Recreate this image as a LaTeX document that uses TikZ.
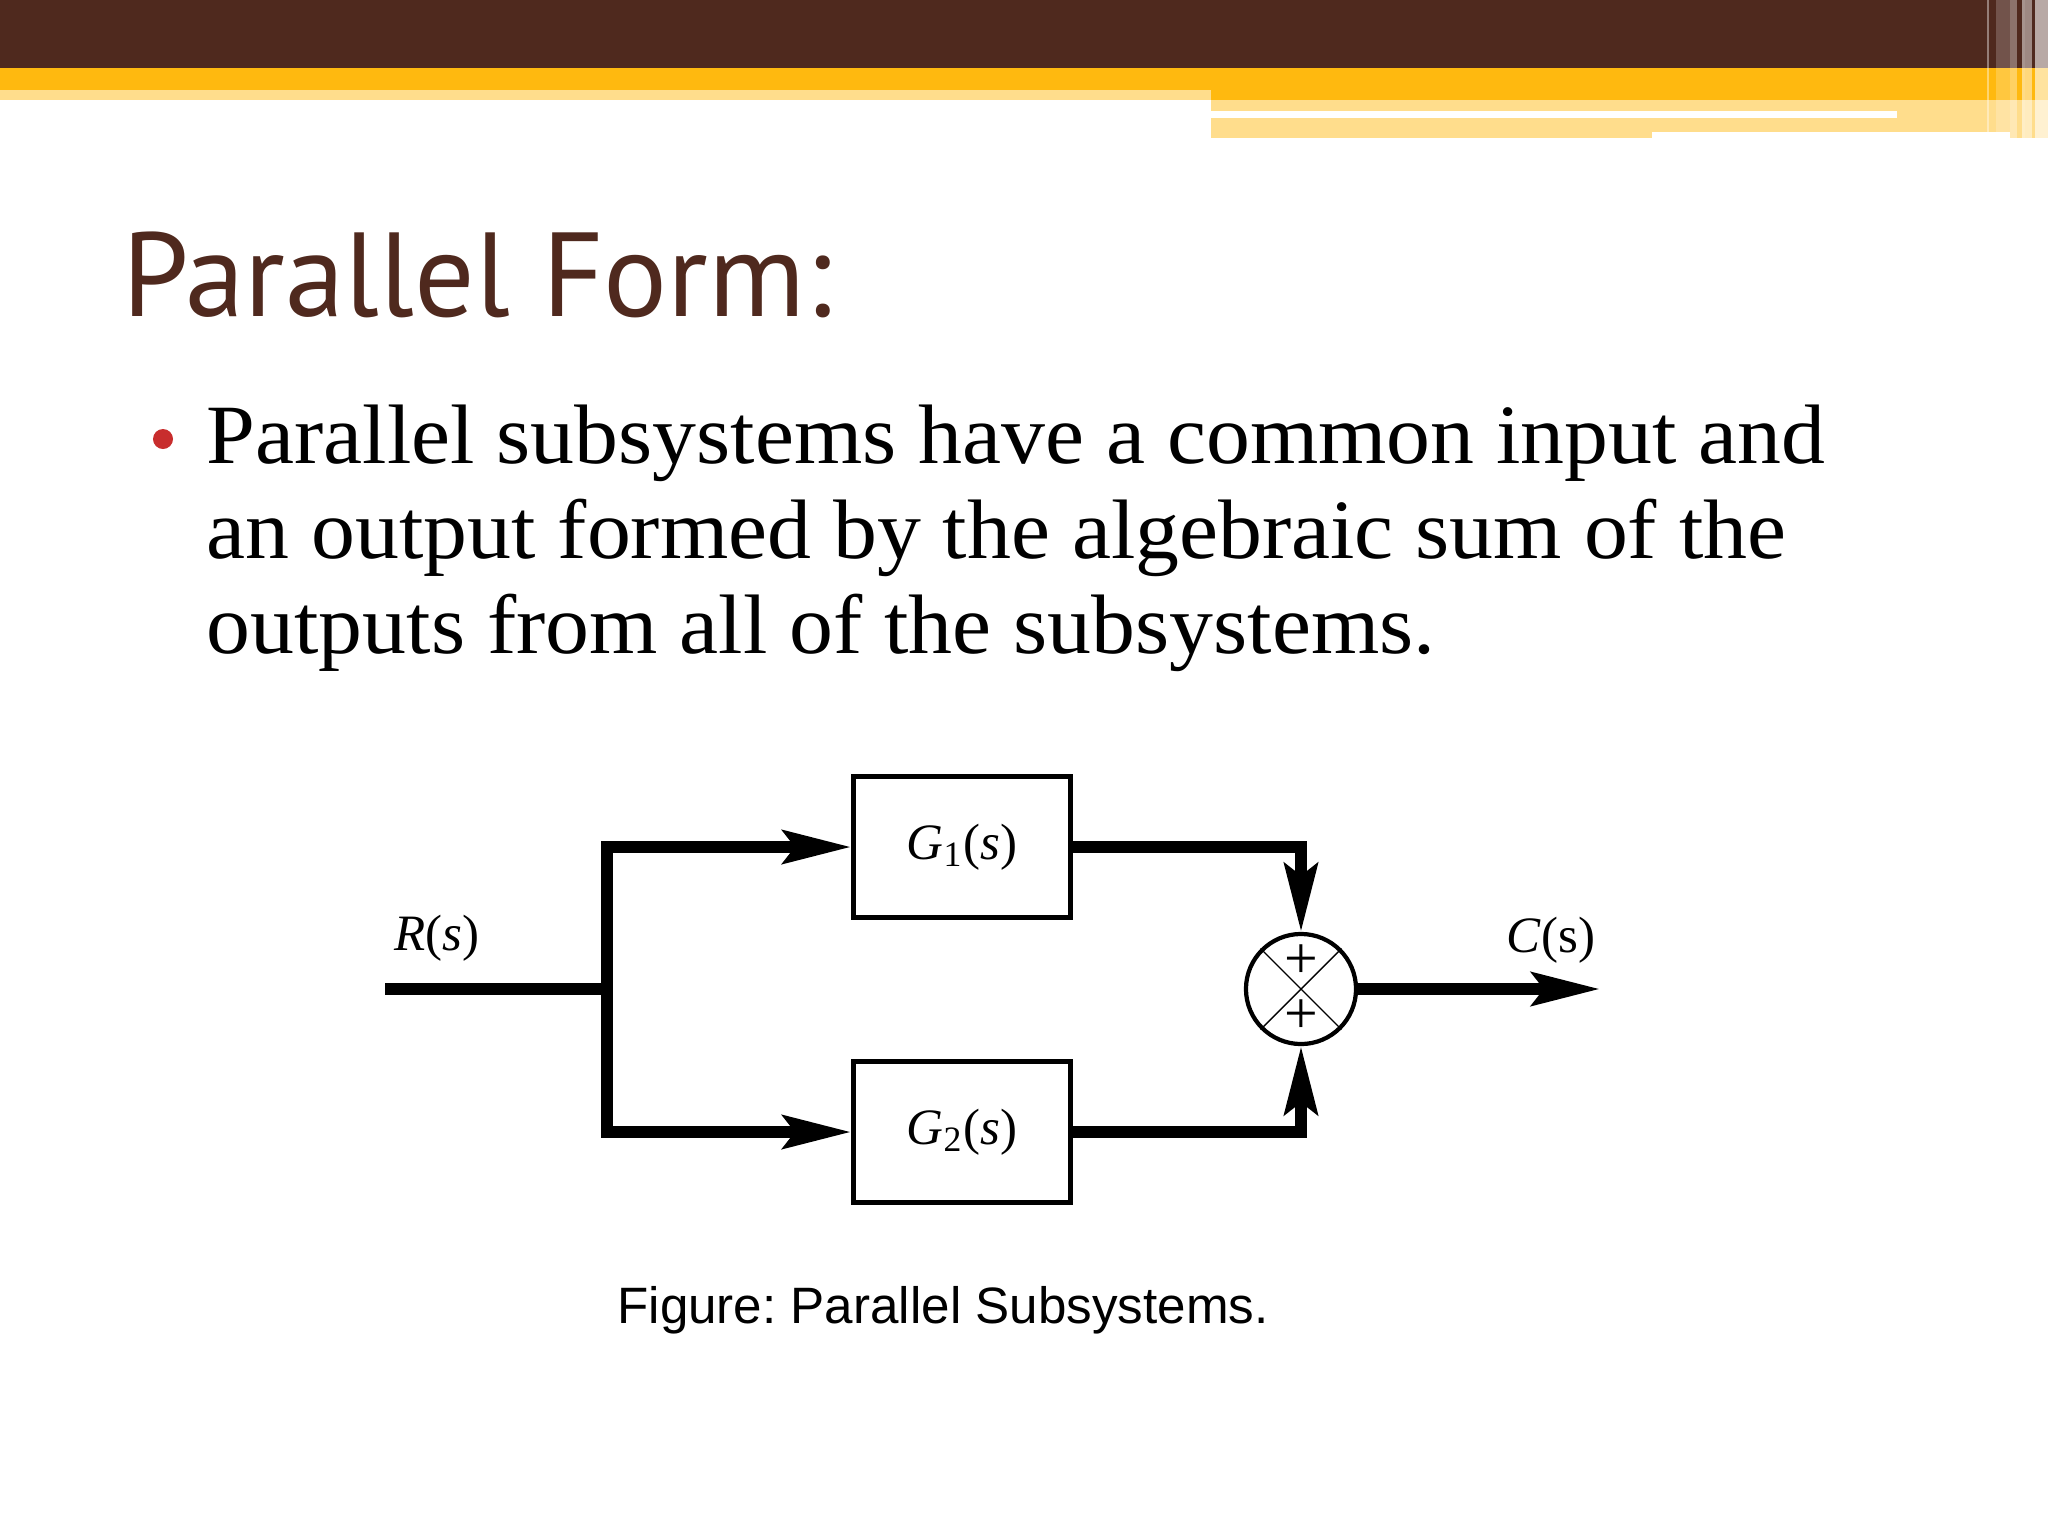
\documentclass[tikz,border=0pt]{standalone}
\usepackage{fontspec}
\setmainfont{Liberation Serif}
\newfontfamily\bodyfont[FakeStretch=1.04]{Liberation Serif}
\newfontfamily\titlefont{PT Sans}
\newfontfamily\capfont{Liberation Sans}
\usetikzlibrary{arrows.meta,positioning}
\definecolor{slidebrown}{RGB}{79,41,30}
\definecolor{slidegold}{RGB}{255,185,15}
\definecolor{slidelight}{RGB}{255,221,140}
\definecolor{bulletred}{RGB}{200,45,45}

\begin{document}
\begin{tikzpicture}[x=0.01cm,y=-0.01cm,
    sig/.style={line width=3.4pt},
    arr/.style={sig,-{Stealth[length=0.68cm,width=0.33cm,inset=0.12cm]}},
    block/.style={draw,line width=1.3pt,minimum width=2.17cm,minimum height=1.41cm,inner sep=0pt,font=\fontsize{14.5}{16}\selectfont},
    sumnode/.style={draw,circle,line width=1.2pt,minimum size=1.1cm,inner sep=0pt},
    lbl/.style={inner sep=0pt,font=\fontsize{14.5}{16}\selectfont},
    plus/.style={inner sep=0pt,font=\fontsize{17}{18}\selectfont}]
  \useasboundingbox (0,0) rectangle (2048,1536);
  % banner
  \fill[slidebrown] (0,0) rectangle (2048,68);
  \fill[slidegold] (0,68) rectangle (2048,90);
  \fill[slidegold] (1211,90) rectangle (2048,100);
  \fill[slidelight] (0,90) rectangle (1211,100);
  \fill[slidelight] (1211,100) rectangle (2048,118);
  \fill[white] (1211,111) rectangle (1897,118);
  \fill[slidelight] (1211,118) rectangle (1652,138);
  \fill[slidelight] (1652,118) rectangle (2010,132);
  \fill[slidelight] (2010,118) rectangle (2048,138);
  \foreach \xa/\xb/\op in {1987/1989/.4, 1996/2010/.2, 2010/2017/.35, 2022/2025/.5, 2025/2032/.45, 2035/2048/.6}
    \fill[white,opacity=\op] (\xa,0) rectangle (\xb,138);

  % title and text
  \node[anchor=base west,inner sep=0pt,text=slidebrown,font=\titlefont\fontsize{34}{40}\selectfont] (title) at (122,316) {Parallel Form:};
  \node[circle,fill=bulletred,inner sep=0pt,minimum size=0.2cm] (bullet) at (163,439) {};
  \node[anchor=base west,inner sep=0pt,align=left,font=\bodyfont\fontsize{24}{27}\selectfont] (body) at (206,653)
    {Parallel subsystems have a common input and\\
     an output formed by the algebraic sum of the\\
     outputs from all of the subsystems.};

  % block diagram
  \coordinate (rin) at (385,989);
  \coordinate (split) at (607,989);
  \node[block] (g1) at (962,847) {\textit{G}\textsubscript{1}(\textit{s})};
  \node[block] (g2) at (962,1132) {\textit{G}\textsubscript{2}(\textit{s})};
  \node[sumnode] (sum) at (1301,989) {};
  \coordinate (cout) at (1600,989);
  \draw[thin] (sum.north west) -- (sum.south east);
  \draw[thin] (sum.north east) -- (sum.south west);
  \node[plus] (p1) at ([yshift=7.8pt]sum.center) {+};
  \node[plus] (p2) at ([yshift=-7.8pt]sum.center) {+};

  \draw[sig] (rin) -- (split);
  \draw[arr] (split) |- (g1.west);
  \draw[arr] (split) |- (g2.west);
  \draw[arr] (g1.east) -| (sum.north);
  \draw[arr] (g2.east) -| (sum.south);
  \draw[arr] (sum.east) -- (cout);

  \node[lbl, above right=0.27cm and 0.09cm of rin] (rlbl) {\textit{R}(\textit{s})};
  \node[lbl] (clbl) at (1551,940) {\textit{C}(s)};

  \node[anchor=base,inner sep=0pt,font=\capfont\fontsize{14.55}{17}\selectfont\frenchspacing] (caption) at (943,1323) {Figure: Parallel Subsystems.};
\end{tikzpicture}
\end{document}
